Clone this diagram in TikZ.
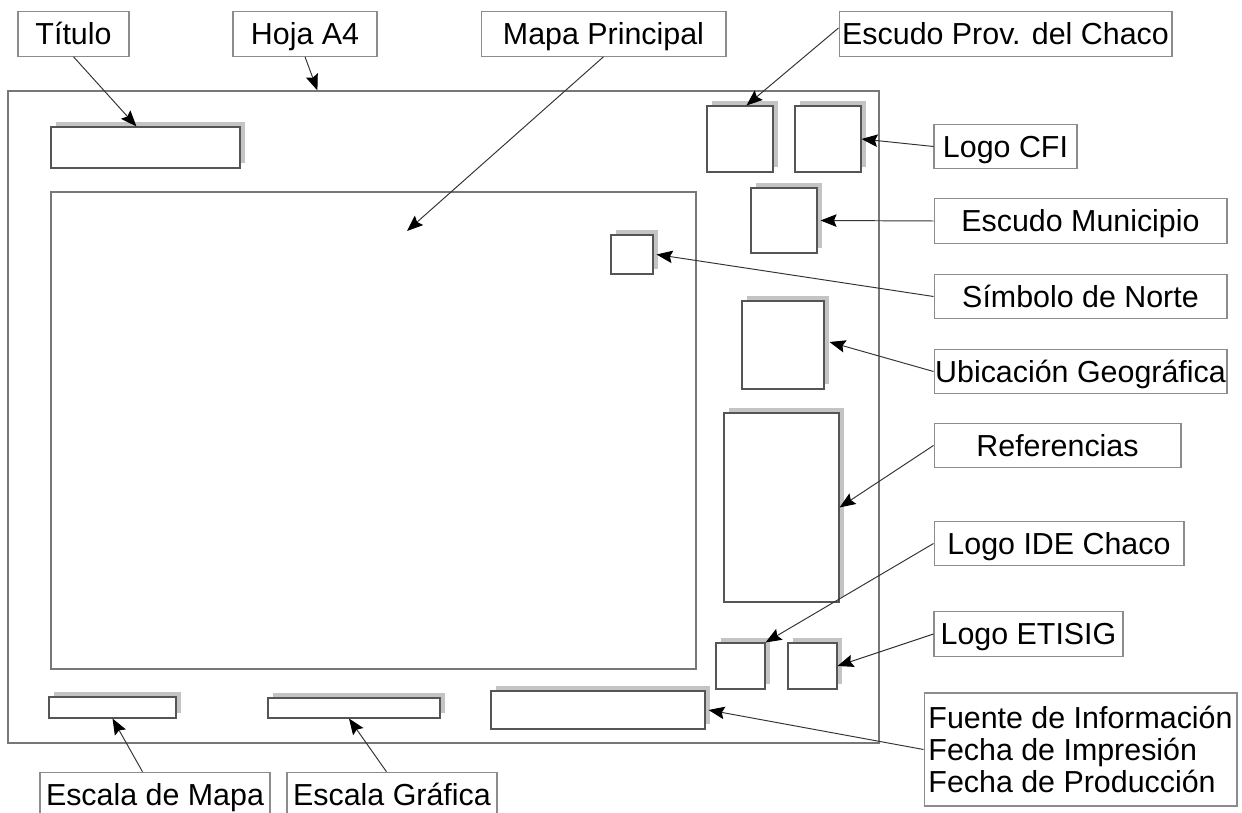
\documentclass[tikz,border=0pt]{standalone}
\usepackage{fontspec}
\setmainfont{Liberation Sans}
\usetikzlibrary{arrows.meta,fit,shadows}
\definecolor{lblgray}{HTML}{8C8C8C}
\definecolor{framegray}{HTML}{777777}
\definecolor{boxgray}{HTML}{555555}
\definecolor{shgray}{HTML}{C4C4C4}
\definecolor{arrgray}{HTML}{333333}
\begin{document}
\begin{tikzpicture}[x=0.02cm,y=-0.02cm,
  frame/.style={draw=framegray, line width=0.6pt, inner sep=0pt},
  mbox/.style={draw=boxgray, fill=white, line width=0.6pt, inner sep=0pt,
    general shadow={draw=none, fill=shgray, shadow xshift=0.1cm, shadow yshift=0.1cm}},
  lblbase/.style={draw=lblgray, fill=white, line width=0.6pt, inner sep=0pt,
    font=\fontsize{17.3}{18}\selectfont},
  lbl/.style={lblbase, text height=12.4pt, text depth=0pt, minimum height=0.89cm},
  arr/.style={draw=arrgray, line width=0.55pt, -{Stealth[length=0.32cm,width=0.25cm,inset=0.05cm,black]}}]
\useasboundingbox (0,0) rectangle (1242,813);
% sheet and map frame
\node[frame, fit={(8,91) (879,743)}] (page) {};
\node[frame, fit={(51,192) (696,669)}] (map) {};
% layout elements
\node[mbox, fit={(51,127) (240,168)}] (tbox) {};
\node[mbox, fit={(707,106) (773,172)}] (epbox) {};
\node[mbox, fit={(795,106) (861,172)}] (cfibox) {};
\node[mbox, fit={(751,188) (817,253)}] (mubox) {};
\node[mbox, fit={(611,235) (653,274)}] (nobox) {};
\node[mbox, fit={(742,301) (824,389)}] (ubbox) {};
\node[mbox, fit={(724,413) (839,602)}] (refbox) {};
\node[mbox, fit={(716,643) (765,689)}] (idbox) {};
\node[mbox, fit={(788,643) (837,689)}] (etbox) {};
\node[mbox, fit={(491,691) (705,729)}] (fbox) {};
\node[mbox, fit={(49,697) (176,718)}] (embox) {};
\node[mbox, fit={(268,698) (440,718)}] (egbox) {};
\coordinate (mp) at (407,231);
% labels
\node[lbl, minimum width=2.22cm] (tit) at (73.5,34) {Título};
\node[lbl, minimum width=2.88cm] (hoja) at (305,34) {Hoja A4};
\node[lbl, minimum width=4.9cm] (mapl) at (603.5,34) {Mapa Principal};
\node[lbl, minimum width=6.66cm] (epl) at (1005.5,34) {Escudo Prov. del Chaco};
\node[lbl, minimum width=2.86cm] (cfil) at (1005.5,146.5) {Logo CFI};
\node[lbl, minimum width=5.86cm] (mul) at (1080.5,221) {Escudo Municipio};
\node[lbl, minimum width=5.86cm] (nol) at (1080.5,296.5) {Símbolo de Norte};
\node[lbl, minimum width=5.86cm] (ubl) at (1080.5,371.5) {Ubicación Geográfica};
\node[lbl, minimum width=4.94cm] (rel) at (1057.5,445.5) {Referencias};
\node[lbl, minimum width=5.0cm] (idl) at (1059,543.5) {Logo IDE Chaco};
\node[lbl, minimum width=3.78cm] (etl) at (1028.5,634) {Logo ETISIG};
\node[lblbase, minimum width=6.26cm, minimum height=2.26cm, align=left] (fl) at (1080.5,749.5) {Fuente de Información\\Fecha de Impresión\\Fecha de Producción};
\node[lbl, minimum width=4.6cm] (eml) at (155,794.5) {Escala de Mapa};
\node[lbl, minimum width=4.2cm] (egl) at (392,794.5) {Escala Gráfica};
% connectors
\draw[arr] (tit.south) -- ([xshift=1.72cm]tbox.north west);
\draw[arr] (hoja.south) -- ([xshift=6.2cm]page.north west);
\draw[arr] (mapl.south) -- (mp);
\draw[arr] ([yshift=0.12cm]epl.west) -- ([xshift=0.8cm]epbox.north west);
\draw[arr] (cfil.west) -- (cfibox.east);
\draw[arr] (mul.west) -- ([xshift=0.06cm]mubox.east);
\draw[arr] (nol.west) -- ([xshift=0.06cm]nobox.east);
\draw[arr] (ubl.west) -- ([xshift=0.1cm,yshift=0.06cm]ubbox.east);
\draw[arr] (rel.west) -- (refbox.east);
\draw[arr] (idl.west) -- (idbox.north east);
\draw[arr] (etl.west) -- (etbox.east);
\draw[arr] (fl.west) -- ([xshift=0.06cm]fbox.east);
\draw[arr] ([xshift=2.06cm]eml.north west) -- (embox.south);
\draw[arr] ([xshift=2.0cm]egl.north west) -- ([xshift=-0.1cm]egbox.south);
\end{tikzpicture}
\end{document}
